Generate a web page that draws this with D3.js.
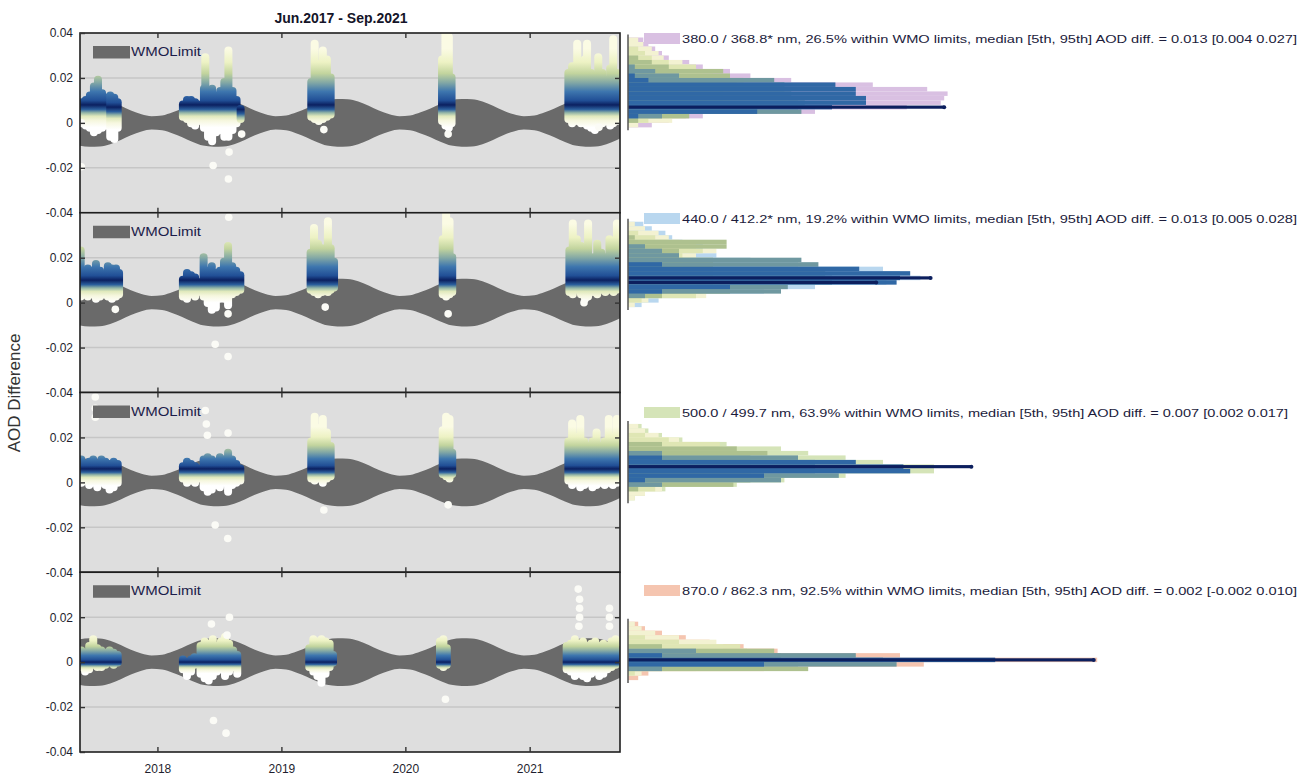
<!DOCTYPE html>
<html>
<head>
<meta charset="utf-8">
<script src="https://cdn.jsdelivr.net/npm/d3@7"></script>
<style>
  body { margin: 0; background: #fff; }
  text { font-family: "Liberation Sans", Arial, sans-serif; }
</style>
</head>
<body>
<div id="chart"></div>
<script>
var width = 1314,
    height = 776;

var plotLeft = 80, plotRight = 620;
var panelTop = 33, panelHeight = 179.75;
var histLeft = 628, histRight = 1308;

// ---- data ----
var panelNames = ["380", "440", "500", "870"];
var statLabels = [
  "380.0 / 368.8* nm, 26.5% within WMO limits, median [5th, 95th] AOD diff. = 0.013 [0.004 0.027]",
  "440.0 / 412.2* nm, 19.2% within WMO limits, median [5th, 95th] AOD diff. = 0.013 [0.005 0.028]",
  "500.0 / 499.7 nm, 63.9% within WMO limits, median [5th, 95th] AOD diff. = 0.007 [0.002 0.017]",
  "870.0 / 862.3 nm, 92.5% within WMO limits, median [5th, 95th] AOD diff. = 0.002 [-0.002 0.010]"
];
var yTickValues = [-0.04, -0.02, 0, 0.02, 0.04];
var yearTicks = ["2018-01-01", "2019-01-01", "2020-01-01", "2021-01-01"];
var timeStart = "2017-05-18", timeEnd = "2021-09-24";

// WMO limit half width, by calendar month (Jan..Dec)
var wmoMonthLimit = [0.0033, 0.0047, 0.0064, 0.0085, 0.0101, 0.0106, 0.0105, 0.0095, 0.0076, 0.0055, 0.0038, 0.0030];

// [date, low, high, median] of the AOD difference cloud
var streaks380 = [
  ["2017-05-24", -0.002, 0.011, 0.008], ["2017-06-04", -0.003, 0.012, 0.008], ["2017-06-16", -0.004, 0.014, 0.008],
  ["2017-06-28", -0.006, 0.018, 0.008], ["2017-07-10", -0.005, 0.021, 0.008], ["2017-07-22", -0.004, 0.015, 0.008],
  ["2017-08-03", -0.003, 0.013, 0.008], ["2017-08-15", -0.008, 0.014, 0.007], ["2017-08-27", -0.009, 0.013, 0.007],
  ["2017-09-06", -0.004, 0.011, 0.007],
  ["2018-03-17", 0.001, 0.010, 0.008], ["2018-03-29", 0.000, 0.012, 0.008], ["2018-04-10", -0.002, 0.012, 0.008],
  ["2018-04-22", -0.003, 0.011, 0.008], ["2018-05-02", -0.001, 0.010, 0.008],
  ["2018-05-18", -0.004, 0.017, 0.008], ["2018-05-22", 0.004, 0.031, 0.008], ["2018-05-30", -0.008, 0.016, 0.008],
  ["2018-06-11", -0.010, 0.017, 0.008], ["2018-06-23", -0.006, 0.014, 0.008], ["2018-07-05", -0.005, 0.016, 0.008],
  ["2018-07-17", -0.008, 0.020, 0.008], ["2018-07-29", -0.008, 0.034, 0.008], ["2018-08-10", -0.005, 0.016, 0.008],
  ["2018-08-22", -0.002, 0.012, 0.008], ["2018-09-03", 0.000, 0.008, 0.006],
  ["2019-03-30", 0.001, 0.020, 0.008], ["2019-04-09", 0.000, 0.037, 0.008], ["2019-04-21", -0.001, 0.028, 0.008],
  ["2019-05-03", 0.000, 0.034, 0.008], ["2019-05-15", 0.001, 0.030, 0.008], ["2019-05-26", 0.002, 0.022, 0.008],
  ["2020-04-18", -0.001, 0.030, 0.008], ["2020-04-28", -0.003, 0.042, 0.008], ["2020-05-08", -0.004, 0.040, 0.008],
  ["2020-05-16", -0.002, 0.022, 0.008],
  ["2021-04-25", 0.000, 0.024, 0.008], ["2021-05-06", -0.002, 0.027, 0.008], ["2021-05-21", -0.001, 0.037, 0.008],
  ["2021-06-01", -0.002, 0.026, 0.008], ["2021-06-12", -0.002, 0.030, 0.008], ["2021-06-19", -0.003, 0.037, 0.008],
  ["2021-07-01", -0.004, 0.024, 0.008], ["2021-07-12", -0.005, 0.022, 0.008], ["2021-07-22", -0.003, 0.031, 0.008],
  ["2021-08-03", -0.002, 0.024, 0.008], ["2021-08-15", -0.001, 0.021, 0.008], ["2021-08-26", -0.003, 0.026, 0.008],
  ["2021-09-04", -0.002, 0.039, 0.008], ["2021-09-14", -0.001, 0.024, 0.008]
];
var streaks440 = [
  ["2017-05-20", 0.001, 0.025, 0.010], ["2017-05-30", 0.002, 0.016, 0.010], ["2017-06-10", 0.001, 0.017, 0.010],
  ["2017-06-22", 0.002, 0.016, 0.010], ["2017-07-04", 0.000, 0.019, 0.010], ["2017-07-16", 0.001, 0.016, 0.010],
  ["2017-07-28", 0.002, 0.013, 0.010], ["2017-08-08", 0.001, 0.018, 0.010], ["2017-08-20", 0.000, 0.017, 0.010],
  ["2017-09-01", 0.001, 0.017, 0.010], ["2017-09-10", 0.002, 0.015, 0.010],
  ["2018-03-17", 0.001, 0.012, 0.010], ["2018-03-29", 0.000, 0.015, 0.010], ["2018-04-10", 0.002, 0.014, 0.010],
  ["2018-04-22", 0.001, 0.013, 0.010], ["2018-05-01", 0.003, 0.011, 0.010],
  ["2018-05-17", 0.001, 0.022, 0.010], ["2018-05-29", -0.002, 0.016, 0.010], ["2018-06-10", -0.005, 0.018, 0.010],
  ["2018-06-22", -0.004, 0.015, 0.010], ["2018-07-04", 0.000, 0.016, 0.010], ["2018-07-16", 0.000, 0.020, 0.010],
  ["2018-07-28", -0.003, 0.027, 0.010], ["2018-08-09", 0.002, 0.018, 0.010], ["2018-08-21", 0.003, 0.016, 0.010],
  ["2018-09-02", 0.004, 0.014, 0.010],
  ["2019-03-28", 0.004, 0.024, 0.010], ["2019-04-07", 0.003, 0.035, 0.010], ["2019-04-19", 0.002, 0.028, 0.010],
  ["2019-05-01", 0.003, 0.026, 0.010], ["2019-05-18", 0.003, 0.038, 0.010], ["2019-05-26", 0.004, 0.026, 0.010],
  ["2019-06-05", 0.005, 0.020, 0.010],
  ["2020-04-20", 0.002, 0.030, 0.010], ["2020-04-30", 0.001, 0.041, 0.010], ["2020-05-10", 0.002, 0.038, 0.010],
  ["2020-05-18", 0.003, 0.022, 0.010],
  ["2021-04-28", 0.003, 0.025, 0.010], ["2021-05-08", 0.002, 0.037, 0.010], ["2021-05-20", 0.004, 0.030, 0.010],
  ["2021-06-01", 0.002, 0.027, 0.010], ["2021-06-13", 0.000, 0.025, 0.010], ["2021-06-22", 0.001, 0.037, 0.010],
  ["2021-07-07", 0.003, 0.022, 0.010], ["2021-07-19", 0.002, 0.028, 0.010], ["2021-07-31", 0.004, 0.024, 0.010],
  ["2021-08-12", 0.003, 0.022, 0.010], ["2021-08-24", 0.004, 0.030, 0.010], ["2021-09-05", 0.003, 0.025, 0.010],
  ["2021-09-15", 0.004, 0.037, 0.010]
];
var streaks500 = [
  ["2017-05-22", -0.002, 0.012, 0.006], ["2017-06-02", -0.001, 0.010, 0.006], ["2017-06-14", -0.003, 0.011, 0.006],
  ["2017-06-26", -0.002, 0.012, 0.006], ["2017-07-08", -0.004, 0.010, 0.006], ["2017-07-20", -0.002, 0.012, 0.006],
  ["2017-08-01", -0.003, 0.011, 0.006], ["2017-08-13", -0.005, 0.010, 0.006], ["2017-08-25", -0.004, 0.011, 0.006],
  ["2017-09-06", -0.002, 0.010, 0.006],
  ["2018-03-17", 0.000, 0.009, 0.006], ["2018-03-29", -0.002, 0.011, 0.006], ["2018-04-10", -0.001, 0.010, 0.006],
  ["2018-04-22", -0.002, 0.009, 0.006], ["2018-05-02", 0.000, 0.008, 0.006],
  ["2018-05-17", -0.004, 0.012, 0.006], ["2018-05-29", -0.006, 0.013, 0.006], ["2018-06-10", -0.005, 0.012, 0.006],
  ["2018-06-22", -0.003, 0.011, 0.006], ["2018-07-04", -0.004, 0.013, 0.006], ["2018-07-16", -0.002, 0.012, 0.006],
  ["2018-07-28", -0.006, 0.015, 0.006], ["2018-08-09", -0.003, 0.012, 0.006], ["2018-08-21", -0.002, 0.010, 0.006],
  ["2018-09-02", -0.001, 0.008, 0.006],
  ["2019-03-30", 0.000, 0.020, 0.006], ["2019-04-09", -0.001, 0.031, 0.006], ["2019-04-21", 0.000, 0.026, 0.006],
  ["2019-05-03", -0.002, 0.030, 0.006], ["2019-05-15", 0.000, 0.024, 0.006], ["2019-05-26", 0.001, 0.018, 0.006],
  ["2020-04-20", 0.002, 0.025, 0.006], ["2020-04-30", 0.001, 0.031, 0.006], ["2020-05-10", 0.000, 0.030, 0.006],
  ["2020-05-18", 0.002, 0.015, 0.006],
  ["2021-04-25", -0.001, 0.020, 0.006], ["2021-05-06", -0.003, 0.028, 0.006], ["2021-05-18", -0.002, 0.022, 0.006],
  ["2021-05-30", -0.004, 0.030, 0.006], ["2021-06-11", -0.003, 0.020, 0.006], ["2021-06-23", -0.002, 0.018, 0.006],
  ["2021-07-05", -0.004, 0.020, 0.006], ["2021-07-17", -0.003, 0.024, 0.006], ["2021-07-29", -0.002, 0.018, 0.006],
  ["2021-08-10", -0.003, 0.020, 0.006], ["2021-08-22", -0.002, 0.030, 0.006], ["2021-09-03", -0.003, 0.022, 0.006],
  ["2021-09-15", -0.002, 0.030, 0.006]
];
var streaks870 = [
  ["2017-05-22", -0.004, 0.007, 0.000], ["2017-06-02", -0.006, 0.006, 0.000], ["2017-06-14", -0.005, 0.009, 0.000],
  ["2017-06-26", -0.003, 0.012, 0.000], ["2017-07-08", -0.004, 0.008, 0.000], ["2017-07-20", -0.004, 0.007, 0.000],
  ["2017-08-01", -0.003, 0.006, 0.000], ["2017-08-13", -0.002, 0.007, 0.000], ["2017-08-25", -0.003, 0.006, 0.000],
  ["2017-09-06", -0.002, 0.005, 0.000],
  ["2018-03-17", -0.005, 0.003, 0.000], ["2018-03-29", -0.008, 0.002, 0.000], ["2018-04-10", -0.006, 0.003, 0.000],
  ["2018-04-20", -0.003, 0.004, 0.000],
  ["2018-05-08", -0.007, 0.009, 0.000], ["2018-05-20", -0.009, 0.011, 0.000], ["2018-06-01", -0.010, 0.010, 0.000],
  ["2018-06-13", -0.008, 0.012, 0.000], ["2018-06-25", -0.006, 0.009, 0.000], ["2018-07-07", -0.005, 0.011, 0.000],
  ["2018-07-19", -0.008, 0.013, 0.000], ["2018-07-31", -0.006, 0.010, 0.000], ["2018-08-12", -0.004, 0.007, 0.000],
  ["2018-08-24", -0.007, 0.005, 0.000],
  ["2019-03-24", -0.004, 0.008, 0.000], ["2019-04-05", -0.006, 0.012, 0.000], ["2019-04-17", -0.008, 0.011, 0.000],
  ["2019-04-29", -0.011, 0.012, 0.000], ["2019-05-11", -0.007, 0.011, 0.000], ["2019-05-23", -0.004, 0.010, 0.000],
  ["2019-06-02", -0.002, 0.005, 0.000],
  ["2020-04-12", -0.003, 0.011, 0.000], ["2020-04-22", -0.004, 0.012, 0.000], ["2020-05-02", -0.003, 0.008, 0.000],
  ["2021-04-20", -0.005, 0.009, 0.000], ["2021-05-02", -0.006, 0.010, 0.000], ["2021-05-14", -0.008, 0.012, 0.000],
  ["2021-05-26", -0.007, 0.010, 0.000], ["2021-06-07", -0.008, 0.011, 0.000], ["2021-06-19", -0.009, 0.009, 0.000],
  ["2021-07-01", -0.007, 0.010, 0.000], ["2021-07-13", -0.006, 0.011, 0.000], ["2021-07-25", -0.008, 0.009, 0.000],
  ["2021-08-06", -0.007, 0.010, 0.000], ["2021-08-18", -0.005, 0.009, 0.000], ["2021-08-30", -0.004, 0.011, 0.000],
  ["2021-09-11", -0.003, 0.012, 0.000]
];

// isolated points [date, AOD difference]
var outliers380 = [["2017-05-22", -0.0195], ["2017-05-22", 0.000], ["2018-06-14", -0.019], ["2018-07-29", -0.025],
  ["2018-07-31", -0.013], ["2018-09-06", -0.005], ["2019-05-06", -0.003], ["2020-05-06", -0.005], ["2021-07-24", -0.002]];
var outliers440 = [["2017-08-30", -0.003], ["2018-06-20", -0.0185], ["2018-07-28", -0.024], ["2018-07-28", -0.005],
  ["2018-07-30", 0.038], ["2019-05-10", -0.002], ["2020-05-06", -0.005], ["2021-06-10", 0.000]];
var outliers500 = [["2017-07-02", 0.038], ["2017-07-02", 0.033], ["2017-07-02", 0.029], ["2018-05-22", 0.032],
  ["2018-05-25", 0.026], ["2018-05-28", 0.021], ["2018-07-28", 0.022], ["2018-06-20", -0.019], ["2018-07-27", -0.025],
  ["2019-05-06", -0.0123], ["2020-05-06", -0.010]];
var outliers870 = [["2018-06-09", 0.017], ["2018-08-01", 0.020], ["2018-07-25", 0.012], ["2018-06-15", -0.026],
  ["2018-07-22", -0.0316], ["2020-04-28", -0.0165], ["2021-05-24", 0.0325], ["2021-05-28", 0.028], ["2021-05-28", 0.024],
  ["2021-05-28", 0.020], ["2021-05-26", 0.016], ["2021-08-24", 0.024], ["2021-08-24", 0.020], ["2021-08-24", 0.016]];

// histogram bin centres (AOD difference) and relative frequency (%) per layer:
// total, then classes from lightest to darkest
var histBins = [0.039, 0.037, 0.035, 0.033, 0.031, 0.029, 0.027, 0.025, 0.023, 0.021, 0.019, 0.017, 0.015,
  0.013, 0.011, 0.009, 0.007, 0.005, 0.003, 0.001, -0.001, -0.003, -0.005, -0.007, -0.009, -0.011];
var hist380 = [
  [0, .45, .6, .8, 1.0, 1.2, 1.8, 2.2, 3.0, 3.6, 4.8, 7.2, 8.8, 9.4, 9.3, 9.2, 8.2, 5.5, 2.2, 1.2, .7, 0, 0, 0, 0, 0],
  [0, .3, .45, .7, .9, 1.05, 1.6, 1.8, 2.0, 2.2, 2.2, 2.0, 1.8, 1.6, 1.6, 1.8, 2.0, 2.2, 1.5, 1.3, .3, 0, 0, 0, 0, 0],
  [0, 0, 0, .3, .5, .7, 1.2, 2.0, 2.2, 2.5, 2.6, 2.5, 2.2, 2.0, 2.0, 2.2, 2.5, 2.8, 1.7, .6, 0, 0, 0, 0, 0, 0],
  [0, 0, 0, 0, 0, .3, .7, 1.2, 2.8, 3.0, 3.4, 3.2, 3.0, 2.8, 2.8, 3.0, 3.5, 3.8, 1.8, .3, 0, 0, 0, 0, 0, 0],
  [0, 0, 0, 0, 0, 0, 0, .2, .8, 1.5, 4.3, 4.6, 4.6, 4.8, 5.0, 5.2, 5.0, 5.1, 1.0, 0, 0, 0, 0, 0, 0, 0],
  [0, 0, 0, 0, 0, 0, 0, 0, 0, .2, .6, 6.1, 6.7, 6.7, 7.0, 7.0, 6.0, 3.8, .3, 0, 0, 0, 0, 0, 0, 0],
  [0, 0, 0, 0, 0, 0, 0, 0, 0, 0, 0, 0, 0, 0, 0, 0, 9.3, 0, 0, 0, 0, 0, 0, 0, 0, 0]
];
var hist440 = [
  [0, 0, .45, .7, 1.1, 1.3, 1.6, 2.2, 2.0, 2.6, 3.6, 5.0, 7.5, 8.0, 8.6, 7.6, 5.5, 4.0, 2.0, .9, .4, 0, 0, 0, 0, 0],
  [0, 0, .2, .5, .9, 1.2, 1.5, 1.8, 2.6, 2.0, 1.8, 1.6, 1.5, 1.5, 1.5, 1.6, 1.8, 2.0, 2.3, .6, .2, 0, 0, 0, 0, 0],
  [0, 0, 0, 0, .3, .8, 1.2, 2.0, 2.2, 1.6, 1.6, 1.6, 1.6, 1.6, 1.6, 1.8, 2.0, 2.2, 2.0, .4, 0, 0, 0, 0, 0, 0],
  [0, 0, 0, 0, 0, .2, 2.9, 2.9, 1.5, 1.5, 2.5, 2.5, 2.5, 2.5, 2.5, 2.5, 3.0, 3.0, 1.0, 0, 0, 0, 0, 0, 0, 0],
  [0, 0, 0, 0, 0, 0, 0, .5, 1.0, 1.5, 5.1, 5.6, 5.6, 5.8, 6.0, 6.0, 4.7, 4.5, .5, 0, 0, 0, 0, 0, 0, 0],
  [0, 0, 0, 0, 0, 0, 0, 0, 0, 0, 0, 1.0, 6.8, 8.3, 8.0, 7.9, 3.0, 1.0, 0, 0, 0, 0, 0, 0, 0, 0],
  [0, 0, 0, 0, 0, 0, 0, 0, 0, 0, 0, 0, 0, 0, 8.9, 7.3, 0, 0, 0, 0, 0, 0, 0, 0, 0, 0]
];
var hist500 = [
  [0, 0, 0, 0, 0, 0, 0, .4, .6, 1.0, 1.6, 2.9, 4.5, 5.3, 6.4, 7.5, 9.0, 9.0, 6.4, 4.6, 3.2, 1.1, .5, .2, 0, 0],
  [0, 0, 0, 0, 0, 0, 0, .3, .5, .9, 1.5, 2.0, 2.2, 2.2, 2.2, 2.2, 2.2, 2.2, 2.2, 2.2, 2.2, 1.0, .5, .2, 0, 0],
  [0, 0, 0, 0, 0, 0, 0, 0, 0, .5, 1.2, 2.7, 2.8, 2.8, 2.8, 2.8, 2.8, 2.8, 2.8, 2.8, 2.8, .8, 0, 0, 0, 0],
  [0, 0, 0, 0, 0, 0, 0, 0, 0, 0, 0, 1.0, 3.2, 4.1, 3.6, 3.6, 3.6, 3.6, 3.6, 3.6, 3.1, .3, 0, 0, 0, 0],
  [0, 0, 0, 0, 0, 0, 0, 0, 0, 0, 0, 0, 0, 1.0, 5.0, 5.5, 5.5, 5.5, 6.2, 4.5, 1.0, 0, 0, 0, 0, 0],
  [0, 0, 0, 0, 0, 0, 0, 0, 0, 0, 0, 0, 0, 0, 1.0, 6.7, 8.1, 8.3, 4.0, .5, 0, 0, 0, 0, 0, 0],
  [0, 0, 0, 0, 0, 0, 0, 0, 0, 0, 0, 0, 0, 0, 0, 0, 10.1, 0, 0, 0, 0, 0, 0, 0, 0, 0]
];
var hist870 = [
  [0, 0, 0, 0, 0, 0, 0, 0, 0, 0, 0, .3, .5, 1.0, 1.7, 2.4, 3.4, 4.4, 8.0, 13.8, 8.7, 4.0, .6, .3, 0, 0],
  [0, 0, 0, 0, 0, 0, 0, 0, 0, 0, 0, .2, .4, .8, 1.5, 2.6, 2.8, 3.0, 3.0, 3.0, 3.0, 2.0, .4, 0, 0, 0],
  [0, 0, 0, 0, 0, 0, 0, 0, 0, 0, 0, 0, 0, 0, .5, 1.5, 3.3, 3.5, 3.5, 3.5, 3.5, 3.0, .2, 0, 0, 0],
  [0, 0, 0, 0, 0, 0, 0, 0, 0, 0, 0, 0, 0, 0, 0, 0, 1.0, 4.3, 4.5, 4.5, 5.0, 5.3, 0, 0, 0, 0],
  [0, 0, 0, 0, 0, 0, 0, 0, 0, 0, 0, 0, 0, 0, 0, 0, 0, 2.0, 6.7, 7.5, 7.9, 1.0, 0, 0, 0, 0],
  [0, 0, 0, 0, 0, 0, 0, 0, 0, 0, 0, 0, 0, 0, 0, 0, 0, 0, 1.0, 10.8, 4.0, 0, 0, 0, 0, 0],
  [0, 0, 0, 0, 0, 0, 0, 0, 0, 0, 0, 0, 0, 0, 0, 0, 0, 0, 0, 13.7, 0, 0, 0, 0, 0, 0]
];

// ---- styles ----
var panelColors = ["#d9c0e2", "#b9d7ef", "#d5e4b8", "#f5c5b0"];
var classColors = ["#f3f2d2", "#dfe6b4", "#aec18f", "#6f98a0", "#3068a5", "#0c1f5e"];
var spread = [1, 1, 0.75, 0.5];
var legendBase = [10, 10.25, 24.5, 22.75];
var streakStops = [[0.025, "#fbfbe4"], [0.019, "#edf2c4"], [0.014, "#c2d49e"], [0.010, "#84a9a5"],
  [0.006, "#3e76ae"], [0.002, "#214f96"], [0, "#0b2060"], [-0.002, "#2b5f9d"], [-0.0035, "#93b5a6"],
  [-0.005, "#e0e9bc"], [-0.007, "#f6f7df"], [-0.01, "#ffffff"]];

var allStreaks = [streaks380, streaks440, streaks500, streaks870];
var allOutliers = [outliers380, outliers440, outliers500, outliers870];
var allHists = [hist380, hist440, hist500, hist870];

var parseDate = d3.timeParse("%Y-%m-%d");
var x = d3.scaleTime()
  .domain([parseDate(timeStart), parseDate(timeEnd)])
  .range([plotLeft, plotRight]);
var xHist = d3.scaleLinear().domain([0, 20]).range([histLeft, histRight]);

var bandData = d3.timeMonth.range(new Date(2017, 3, 1), new Date(2021, 10, 1)).map(function(m) {
  return { date: d3.timeDay.offset(m, 14), w: wmoMonthLimit[m.getMonth()] };
});

var tickFmt = function(d) { return d === 0 ? "0" : d.toFixed(2); };

var svg = d3.select("#chart")
  .append("svg")
  .attr("width", width)
  .attr("height", height);
var defs = svg.append("defs");

// title
svg.append("text")
  .attr("x", 341).attr("y", 23)
  .attr("text-anchor", "middle")
  .attr("font-size", "14px").attr("font-weight", "bold")
  .attr("fill", "#141428")
  .text("Jun.2017 - Sep.2021");

// y label
svg.append("text")
  .attr("transform", "translate(20,393) rotate(-90)")
  .attr("text-anchor", "middle")
  .attr("font-size", "17px")
  .attr("fill", "#333")
  .text("AOD Difference");

panelNames.forEach(function(name, i) {
  var top = panelTop + i * panelHeight,
      bottom = top + panelHeight;
  var y = d3.scaleLinear().domain([-0.04, 0.04]).range([bottom, top]);
  var g = svg.append("g").attr("class", "panel-" + name);

  defs.append("clipPath").attr("id", "clip" + i)
    .append("rect")
    .attr("x", plotLeft).attr("y", top)
    .attr("width", plotRight - plotLeft).attr("height", panelHeight);

  g.append("rect")
    .attr("x", plotLeft).attr("y", top)
    .attr("width", plotRight - plotLeft).attr("height", panelHeight)
    .attr("fill", "#dedede");

  g.selectAll("line.grid")
    .data([-0.02, 0, 0.02])
    .enter()
    .append("line")
    .attr("class", "grid")
    .attr("x1", plotLeft).attr("x2", plotRight)
    .attr("y1", function(d) { return y(d); })
    .attr("y2", function(d) { return y(d); })
    .attr("stroke", "#c6c6c6").attr("stroke-width", 1.6);

  var plot = g.append("g").attr("clip-path", "url(#clip" + i + ")");

  // WMO limit band
  var area = d3.area()
    .x(function(d) { return x(d.date); })
    .y0(function(d) { return y(-d.w); })
    .y1(function(d) { return y(d.w); })
    .curve(d3.curveMonotoneX);
  plot.append("path").datum(bandData)
    .attr("d", area)
    .attr("fill", "#6a6a6a");

  // coloured data columns
  var s = spread[i];
  allStreaks[i].forEach(function(d, j) {
    var id = "grad" + i + "_" + j;
    var grad = defs.append("linearGradient")
      .attr("id", id)
      .attr("gradientUnits", "userSpaceOnUse")
      .attr("x1", 0).attr("x2", 0)
      .attr("y1", y(d[3] + 0.025 * s))
      .attr("y2", y(d[3] - 0.01 * s));
    streakStops.forEach(function(st) {
      grad.append("stop")
        .attr("offset", (0.025 - st[0]) / 0.035)
        .attr("stop-color", st[1]);
    });
  });

  plot.selectAll("rect.streak")
    .data(allStreaks[i])
    .enter()
    .append("rect")
    .attr("class", "streak")
    .attr("x", function(d) { return x(parseDate(d[0])) - 4; })
    .attr("y", function(d) { return y(d[2]); })
    .attr("width", 8)
    .attr("height", function(d) { return y(d[1]) - y(d[2]); })
    .attr("rx", 4)
    .attr("fill", function(d, j) { return "url(#grad" + i + "_" + j + ")"; });

  plot.selectAll("circle.outlier")
    .data(allOutliers[i])
    .enter()
    .append("circle")
    .attr("class", "outlier")
    .attr("cx", function(d) { return x(parseDate(d[0])); })
    .attr("cy", function(d) { return y(d[1]); })
    .attr("r", 3.8)
    .attr("fill", "#fbfbf6");

  // frame
  g.append("rect")
    .attr("x", plotLeft).attr("y", top)
    .attr("width", plotRight - plotLeft).attr("height", panelHeight)
    .attr("fill", "none").attr("stroke", "#1e1e1e").attr("stroke-width", 1.6);

  // axes
  var yAxis = d3.axisLeft(y)
    .tickValues(i === 0 ? yTickValues : yTickValues.slice(0, 4))
    .tickSizeInner(-5).tickSizeOuter(0).tickPadding(7)
    .tickFormat(tickFmt);
  var ya = g.append("g").attr("transform", "translate(" + plotLeft + ",0)").call(yAxis);

  var yRight = d3.axisRight(y).tickValues([-0.02, 0, 0.02])
    .tickSizeInner(-5).tickSizeOuter(0).tickFormat("");
  var yr = g.append("g").attr("transform", "translate(" + plotRight + ",0)").call(yRight);

  var years = yearTicks.map(parseDate);
  var xTop = d3.axisTop(x).tickValues(years).tickSizeInner(-5).tickSizeOuter(0).tickFormat("");
  var xt = g.append("g").attr("transform", "translate(0," + top + ")").call(xTop);

  var xBottom = d3.axisBottom(x).tickValues(years).tickSizeInner(-5).tickSizeOuter(0).tickPadding(12)
    .tickFormat(i === 3 ? d3.timeFormat("%Y") : "");
  var xb = g.append("g").attr("transform", "translate(0," + bottom + ")").call(xBottom);

  [ya, yr, xt, xb].forEach(function(a) {
    a.select(".domain").remove();
    a.selectAll(".tick line").attr("stroke", "#333").attr("stroke-width", 1.4);
    a.selectAll(".tick text")
      .attr("font-family", "Liberation Sans, Arial, sans-serif")
      .attr("font-size", "12px")
      .attr("fill", "#1e1e2e");
  });

  // WMO legend
  g.append("rect")
    .attr("x", 93).attr("y", top + 13)
    .attr("width", 37).attr("height", 12.5)
    .attr("fill", "#6a6a6a");
  g.append("text")
    .attr("x", 131).attr("y", top + 23)
    .attr("font-size", "13px")
    .attr("textLength", 70).attr("lengthAdjust", "spacingAndGlyphs")
    .attr("fill", "#1c1c4a")
    .text("WMOLimit");

  // histogram
  var hist = allHists[i];
  var layerColors = [panelColors[i]].concat(classColors);
  var binH = y(-0.001) - y(0.001);
  var hg = g.append("g");
  hist.forEach(function(layer, k) {
    var thin = k === hist.length - 1;
    var h = thin ? binH * 0.7 : binH;
    hg.selectAll("rect.l" + k)
      .data(layer.map(function(v, b) { return { bin: histBins[b], v: v }; }).filter(function(d) { return d.v > 0; }))
      .enter()
      .append("rect")
      .attr("class", "l" + k)
      .attr("x", histLeft)
      .attr("y", function(d) { return y(d.bin) - h / 2; })
      .attr("width", function(d) { return xHist(d.v) - histLeft; })
      .attr("height", h)
      .attr("fill", layerColors[k]);
    if (thin) {
      hg.selectAll("circle.end")
        .data(layer.map(function(v, b) { return { bin: histBins[b], v: v }; }).filter(function(d) { return d.v > 0; }))
        .enter()
        .append("circle")
        .attr("class", "end")
        .attr("cx", function(d) { return xHist(d.v); })
        .attr("cy", function(d) { return y(d.bin); })
        .attr("r", 2)
        .attr("fill", layerColors[k]);
    }
  });

  var nonZero = hist[0].map(function(v, b) { return v > 0 ? histBins[b] : null; })
    .filter(function(v) { return v !== null; });
  g.append("line")
    .attr("x1", histLeft).attr("x2", histLeft)
    .attr("y1", y(d3.max(nonZero) + 0.001) - 3)
    .attr("y2", y(d3.min(nonZero) - 0.001) + 3)
    .attr("stroke", "#555").attr("stroke-width", 1.5);

  // stats legend
  g.append("rect")
    .attr("x", 644).attr("y", top + legendBase[i] - 10)
    .attr("width", 36).attr("height", 11)
    .attr("fill", panelColors[i]);
  g.append("text")
    .attr("x", 682).attr("y", top + legendBase[i])
    .attr("font-size", "11.5px")
    .attr("textLength", i === 2 ? 606 : 615).attr("lengthAdjust", "spacingAndGlyphs")
    .attr("fill", "#1c1c3c")
    .text(statLabels[i]);
});
</script>
</body>
</html>
